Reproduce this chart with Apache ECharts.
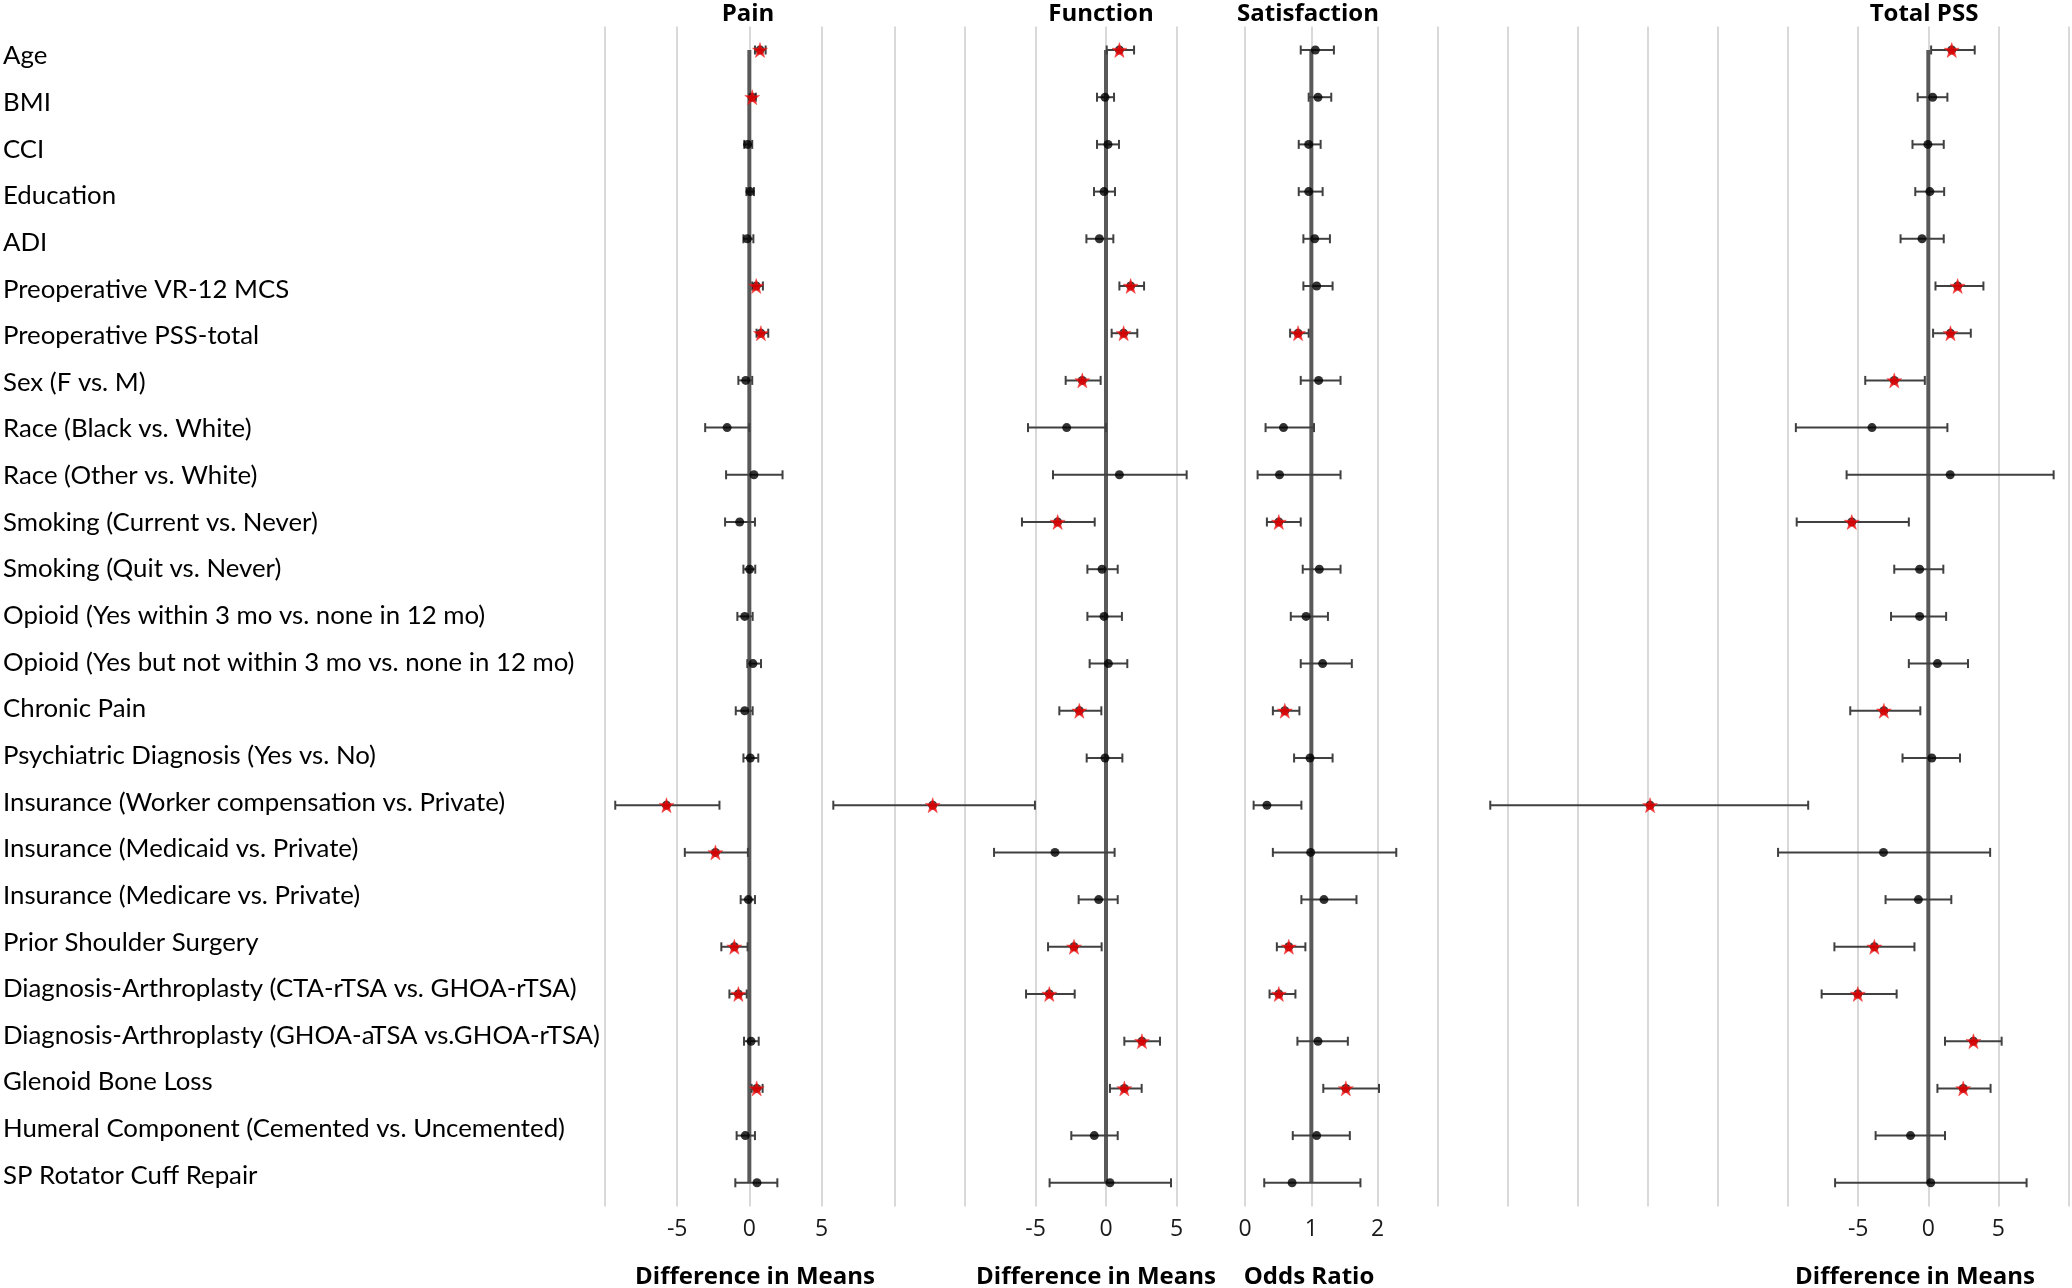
<!DOCTYPE html>
<html>
<head>
<meta charset="utf-8">
<script src="https://cdn.jsdelivr.net/npm/echarts@6/dist/echarts.min.js"></script>
<style>
html,body{margin:0;padding:0;background:#fff;}
#chart{width:2072px;height:1288px;}
</style>
</head>
<body>
<div id="chart"></div>
<script>
const categories = [
  'Age','BMI','CCI','Education','ADI','Preoperative VR-12 MCS','Preoperative PSS-total',
  'Sex (F vs. M)','Race (Black vs. White)','Race (Other vs. White)','Smoking (Current vs. Never)',
  'Smoking (Quit vs. Never)','Opioid (Yes within 3 mo vs. none in 12 mo)',
  'Opioid (Yes but not within 3 mo vs. none in 12 mo)','Chronic Pain',
  'Psychiatric Diagnosis (Yes vs. No)','Insurance (Worker compensation vs. Private)',
  'Insurance (Medicaid vs. Private)','Insurance (Medicare vs. Private)','Prior Shoulder Surgery',
  'Diagnosis-Arthroplasty (CTA-rTSA vs. GHOA-rTSA)','Diagnosis-Arthroplasty (GHOA-aTSA vs.GHOA-rTSA)',
  'Glenoid Bone Loss','Humeral Component (Cemented vs. Uncemented)','SP Rotator Cuff Repair'
];

const panelTitles = ['Pain', 'Function', 'Satisfaction', 'Total PSS'];
const axisNames = ['Difference in Means', 'Difference in Means', 'Odds Ratio', 'Difference in Means'];
const refValues = [0, 0, 1, 0];

const painEst = [0.74, 0.2, -0.12, 0.05, -0.14, 0.48, 0.8, -0.25, -1.54, 0.32, -0.67, 0.02, -0.32, 0.25, -0.32, 0.07, -5.74, -2.35, -0.07, -1.04, -0.76, 0.12, 0.51, -0.28, 0.53];
const painLo  = [0.39, 0.03, -0.35, -0.2, -0.41, 0.2, 0.5, -0.76, -3.06, -1.61, -1.68, -0.41, -0.83, -0.14, -0.94, -0.41, -9.29, -4.47, -0.6, -1.94, -1.38, -0.37, 0.16, -0.88, -0.97];
const painHi  = [1.13, 0.45, 0.2, 0.32, 0.28, 0.94, 1.31, 0.2, 0.0, 2.3, 0.39, 0.41, 0.23, 0.81, 0.23, 0.62, -2.07, -0.1, 0.39, -0.12, -0.18, 0.65, 0.92, 0.39, 1.94];
const painSig = [1,1,0,0,0,1,1,0,0,0,0,0,0,0,0,0,1,1,0,1,1,0,1,0,0];

const funcEst = [0.95, -0.07, 0.14, -0.14, -0.47, 1.75, 1.25, -1.68, -2.79, 0.95, -3.43, -0.28, -0.14, 0.17, -1.89, -0.07, -12.29, -3.62, -0.52, -2.27, -4.02, 2.55, 1.3, -0.83, 0.28];
const funcLo  = [0.05, -0.64, -0.64, -0.85, -1.39, 0.95, 0.4, -2.86, -5.53, -3.76, -5.96, -1.32, -1.32, -1.16, -3.31, -1.37, -19.34, -7.94, -1.94, -4.11, -5.67, 1.3, 0.28, -2.46, -4.0];
const funcHi  = [1.99, 0.57, 0.92, 0.64, 0.52, 2.7, 2.22, -0.38, 0.0, 5.72, -0.8, 0.83, 1.13, 1.51, -0.33, 1.16, -5.04, 0.61, 0.83, -0.31, -2.22, 3.83, 2.53, 0.83, 4.61];
const funcSig = [1,0,0,0,0,1,1,1,0,0,1,0,0,0,1,0,1,0,0,1,1,1,1,0,0];

const satEst = [1.06, 1.10, 0.96, 0.96, 1.05, 1.08, 0.80, 1.11, 0.58, 0.52, 0.51, 1.12, 0.92, 1.17, 0.60, 0.98, 0.33, 0.99, 1.19, 0.66, 0.51, 1.10, 1.52, 1.08, 0.71];
const satLo  = [0.84, 0.96, 0.81, 0.81, 0.88, 0.88, 0.68, 0.84, 0.31, 0.19, 0.33, 0.87, 0.69, 0.84, 0.42, 0.74, 0.13, 0.42, 0.85, 0.48, 0.37, 0.79, 1.18, 0.72, 0.29];
const satHi  = [1.34, 1.30, 1.14, 1.17, 1.28, 1.32, 0.96, 1.44, 1.04, 1.44, 0.84, 1.44, 1.25, 1.61, 0.82, 1.32, 0.85, 2.28, 1.68, 0.91, 0.76, 1.55, 2.02, 1.58, 1.74];
const satSig = [0,0,0,0,0,0,1,0,0,0,1,0,0,0,1,0,0,0,0,1,1,0,1,0,0];

const totEst = [1.67, 0.31, -0.03, 0.11, -0.45, 2.09, 1.58, -2.43, -4.02, 1.56, -5.46, -0.62, -0.62, 0.65, -3.17, 0.25, -19.85, -3.2, -0.71, -3.85, -5.03, 3.22, 2.49, -1.27, 0.17];
const totLo  = [0.2, -0.76, -1.13, -0.93, -1.98, 0.51, 0.34, -4.5, -9.45, -5.83, -9.39, -2.43, -2.66, -1.39, -5.57, -1.84, -31.25, -10.72, -3.05, -6.7, -7.61, 1.19, 0.65, -3.76, -6.65];
const totHi  = [3.31, 1.36, 1.10, 1.13, 1.10, 3.93, 3.03, -0.25, 1.36, 8.94, -1.39, 1.07, 1.27, 2.83, -0.57, 2.26, -8.57, 4.41, 1.64, -0.99, -2.26, 5.23, 4.44, 1.19, 7.01];
const totSig = [1,0,0,0,0,1,1,1,0,0,1,0,0,0,1,0,1,0,0,1,1,1,1,0,0];

const painTicks = [-5, 0, 5];
const funcTicks = [-5, 0, 5];
const satTicks = [0, 1, 2];
const totTicks = [-5, 0, 5];

const panels = [
  {est: painEst, lo: painLo, hi: painHi, sig: painSig, ticks: painTicks},
  {est: funcEst, lo: funcLo, hi: funcHi, sig: funcSig, ticks: funcTicks},
  {est: satEst, lo: satLo, hi: satHi, sig: satSig, ticks: satTicks},
  {est: totEst, lo: totLo, hi: totHi, sig: totSig, ticks: totTicks}
];

// layout (positions/sizes only)
const FONT = 'Lato';
const BOLDFONT = '"Open Sans"';
const plotTop = 26.4, plotHeight = 1180;
const panelLayout = [
  {left: 605, width: 216.5, min: -10, max: 5, interval: 5, titleX: 748, nameX: 755},
  {left: 894.5, width: 282, min: -15, max: 5, interval: 5, titleX: 1101, nameX: 1096},
  {left: 1245, width: 132.7, min: 0, max: 2, interval: 1, titleX: 1308, nameX: 1309},
  {left: 1437.7, width: 630.8, min: -35, max: 10, interval: 5, titleX: 1924, nameX: 1915}
];
const STAR = 'path://M50,0 L61.8,35.4 L99,35.4 L69,57.3 L80.4,92.7 L50,70.8 L19.6,92.7 L31,57.3 L1,35.4 L38.2,35.4 Z';

const grids = [{left: 605, top: 32.7, height: 1166, width: 1}];
const xAxes = [{type: 'value', gridIndex: 0, show: false}];
const yAxes = [{
  type: 'category', gridIndex: 0, data: categories, inverse: true,
  axisLine: {show: false}, axisTick: {show: false}, splitLine: {show: false},
  axisLabel: {show: true, interval: 0, align: 'left', margin: 602, color: '#000',
    fontFamily: FONT, fontSize: 25.8}
}];
const series = [];
const graphics = [];

panels.forEach((p, i) => {
  const L = panelLayout[i];
  const gi = i + 1;
  grids.push({left: L.left, width: L.width, top: plotTop, height: plotHeight});
  xAxes.push({
    type: 'value', gridIndex: gi, min: L.min, max: L.max, interval: L.interval,
    axisLine: {show: false}, axisTick: {show: false},
    splitLine: {show: true, lineStyle: {color: '#d9d9d9', width: 2}},
    axisLabel: {
      show: true, margin: 12, color: '#1a1a1a', fontFamily: '"Open Sans"', fontSize: 23,
      formatter: (v) => p.ticks.indexOf(v) >= 0 ? String(v) : ''
    }
  });
  yAxes.push({
    type: 'category', gridIndex: gi, data: categories, inverse: true,
    axisLine: {show: false}, axisTick: {show: false}, axisLabel: {show: false},
    splitLine: {show: false}
  });
  // reference line (0 or 1)
  series.push({
    type: 'line', xAxisIndex: gi, yAxisIndex: gi, symbol: 'none', silent: true, z: 2,
    data: [[refValues[i], categories[0]], [refValues[i], categories[categories.length - 1]]],
    lineStyle: {color: '#595959', width: 4}
  });
  // error bars
  series.push({
    type: 'custom', xAxisIndex: gi, yAxisIndex: gi, z: 3, clip: false, silent: true,
    encode: {x: [0, 1], y: 2},
    data: categories.map((c, k) => [p.lo[k], p.hi[k], k]),
    renderItem: function (params, api) {
      const k = api.value(2);
      const a = api.coord([api.value(0), k]);
      const b = api.coord([api.value(1), k]);
      const h = 4.5;
      const st = {stroke: '#404040', lineWidth: 2};
      return {type: 'group', children: [
        {type: 'line', shape: {x1: a[0], y1: a[1], x2: b[0], y2: b[1]}, style: st},
        {type: 'line', shape: {x1: a[0], y1: a[1] - h, x2: a[0], y2: a[1] + h}, style: st},
        {type: 'line', shape: {x1: b[0], y1: b[1] - h, x2: b[0], y2: b[1] + h}, style: st}
      ]};
    }
  });
  // point estimates
  series.push({
    type: 'scatter', xAxisIndex: gi, yAxisIndex: gi, z: 4, silent: true,
    symbol: 'circle', symbolSize: 9, itemStyle: {color: '#000'},
    data: categories.map((c, k) => [p.est[k], k])
  });
  // significant markers
  series.push({
    type: 'scatter', xAxisIndex: gi, yAxisIndex: gi, z: 5, silent: true,
    symbol: STAR, symbolSize: 15, itemStyle: {color: '#ff0000', borderColor: '#e03030', borderWidth: 0.5},
    data: categories.map((c, k) => [p.est[k], k]).filter((d, k) => p.sig[k] === 1)
  });
  graphics.push({type: 'text', x: L.titleX, y: 14.5, silent: true,
    style: {text: panelTitles[i], fill: '#000', font: 'bold 24px ' + BOLDFONT, align: 'center', verticalAlign: 'middle'}});
  graphics.push({type: 'text', x: L.nameX, y: 1277, silent: true,
    style: {text: axisNames[i], fill: '#000', font: 'bold 24px ' + BOLDFONT, align: 'center', verticalAlign: 'middle'}});
});

const chart = echarts.init(document.getElementById('chart'), null, {renderer: 'canvas'});
chart.setOption({
  backgroundColor: '#ffffff',
  animation: false,
  grid: grids,
  xAxis: xAxes,
  yAxis: yAxes,
  series: series,
  graphic: graphics
});
</script>
</body>
</html>
